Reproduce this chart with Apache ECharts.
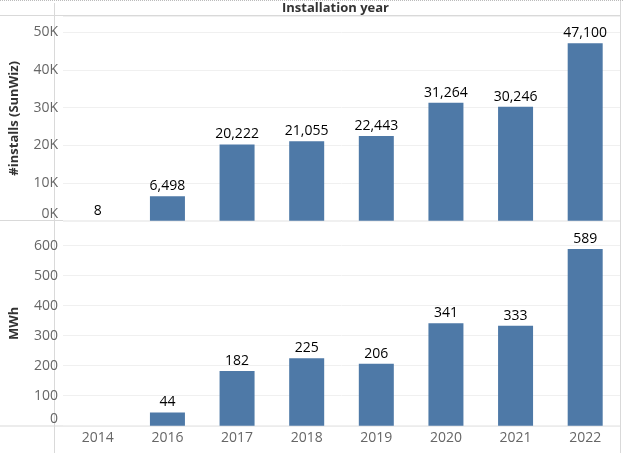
<!DOCTYPE html>
<html>
<head>
<meta charset="utf-8">
<script src="https://cdn.jsdelivr.net/npm/echarts@6/dist/echarts.min.js"></script>
<style>
  html, body { margin: 0; padding: 0; background: #fff; }
  #main { width: 624px; height: 453px; }
</style>
</head>
<body>
<div id="main"></div>
<script>
// data
var years = ['2014', '2016', '2017', '2018', '2019', '2020', '2021', '2022'];
var installs = [8, 6498, 20222, 21055, 22443, 31264, 30246, 47100];
var mwh = [null, 44, 182, 225, 206, 341, 333, 589];

var FONT = '"Open Sans", "Noto Sans", sans-serif';
var BAR = '#4e79a7';
var GRID_LINE = '#f0f0f0';
var FRAME = '#d9d9d9';

var myChart = echarts.init(document.getElementById('main'));

function fmtK(v) {
    return (v / 1000) + 'K';
}

var option = {
    animation: false,
    textStyle: { fontFamily: FONT },
    grid: [
        { left: 54, right: 4, top: 16, height: 204.7 },
        { left: 54, right: 4, top: 221, height: 204.7 }
    ],
    xAxis: [{
        gridIndex: 0,
        type: 'category',
        data: years,
        axisLine: { show: false },
        axisTick: { show: false },
        axisLabel: { show: false }
    }, {
        gridIndex: 1,
        type: 'category',
        data: years,
        axisLine: { show: false },
        axisTick: { show: false },
        axisLabel: { color: '#666', fontSize: 14, margin: 5, fontFamily: FONT }
    }],
    yAxis: [{
        gridIndex: 0,
        type: 'value',
        min: 0,
        max: 54300,
        interval: 10000,
        name: '#installs (SunWiz)',
        nameLocation: 'middle',
        nameRotate: 90,
        nameGap: 42,
        nameTextStyle: { fontWeight: 'bold', fontSize: 13, color: '#333', fontFamily: FONT },
        axisLine: { show: false },
        axisTick: { show: false },
        axisLabel: {
            color: '#666', fontSize: 14, margin: 5, fontFamily: FONT,
            showMaxLabel: false,
            verticalAlignMinLabel: 'bottom',
            formatter: fmtK
        },
        splitLine: { lineStyle: { color: GRID_LINE, width: 1 } }
    }, {
        gridIndex: 1,
        type: 'value',
        min: 0,
        max: 682,
        interval: 100,
        name: 'MWh',
        nameLocation: 'middle',
        nameRotate: 90,
        nameGap: 42,
        nameTextStyle: { fontWeight: 'bold', fontSize: 13, color: '#333', fontFamily: FONT },
        axisLine: { show: false },
        axisTick: { show: false },
        axisLabel: {
            color: '#666', fontSize: 14, margin: 5, fontFamily: FONT,
            showMaxLabel: false,
            verticalAlignMinLabel: 'bottom'
        },
        splitLine: { lineStyle: { color: GRID_LINE, width: 1 } }
    }],
    series: [{
        type: 'bar',
        xAxisIndex: 0,
        yAxisIndex: 0,
        data: installs,
        barWidth: 35,
        itemStyle: { color: BAR },
        label: {
            show: true,
            position: 'top',
            distance: 3,
            color: '#000',
            fontSize: 14,
            fontFamily: FONT,
            formatter: function (p) { return p.value.toLocaleString('en-US'); }
        }
    }, {
        type: 'bar',
        xAxisIndex: 1,
        yAxisIndex: 1,
        data: mwh,
        barWidth: 35,
        itemStyle: { color: BAR },
        label: {
            show: true,
            position: 'top',
            distance: 3,
            color: '#000',
            fontSize: 14,
            fontFamily: FONT
        }
    }],
    graphic: [
        // header and frame lines, Tableau style
        { type: 'line', shape: { x1: 0, y1: 0.5, x2: 624, y2: 0.5 },
          style: { stroke: '#bbb', lineWidth: 1, lineDash: [1, 1] } },
        { type: 'text', left: 54 + (566 / 2) - 55, top: 2,
          style: { text: 'Installation year', fill: '#333', font: 'bold 13px ' + FONT } },
        { type: 'line', shape: { x1: 0, y1: 15.5, x2: 620, y2: 15.5 },
          style: { stroke: FRAME, lineWidth: 1 } },
        { type: 'line', shape: { x1: 0, y1: 220.5, x2: 620, y2: 220.5 },
          style: { stroke: FRAME, lineWidth: 1 } },
        { type: 'line', shape: { x1: 0, y1: 426, x2: 620, y2: 426 },
          style: { stroke: FRAME, lineWidth: 1 } },
        { type: 'line', shape: { x1: 54.5, y1: 3, x2: 54.5, y2: 453 },
          style: { stroke: FRAME, lineWidth: 1 } },
        { type: 'line', shape: { x1: 620.5, y1: 1, x2: 620.5, y2: 453 },
          style: { stroke: FRAME, lineWidth: 1 } }
    ]
};

myChart.setOption(option);
</script>
</body>
</html>
